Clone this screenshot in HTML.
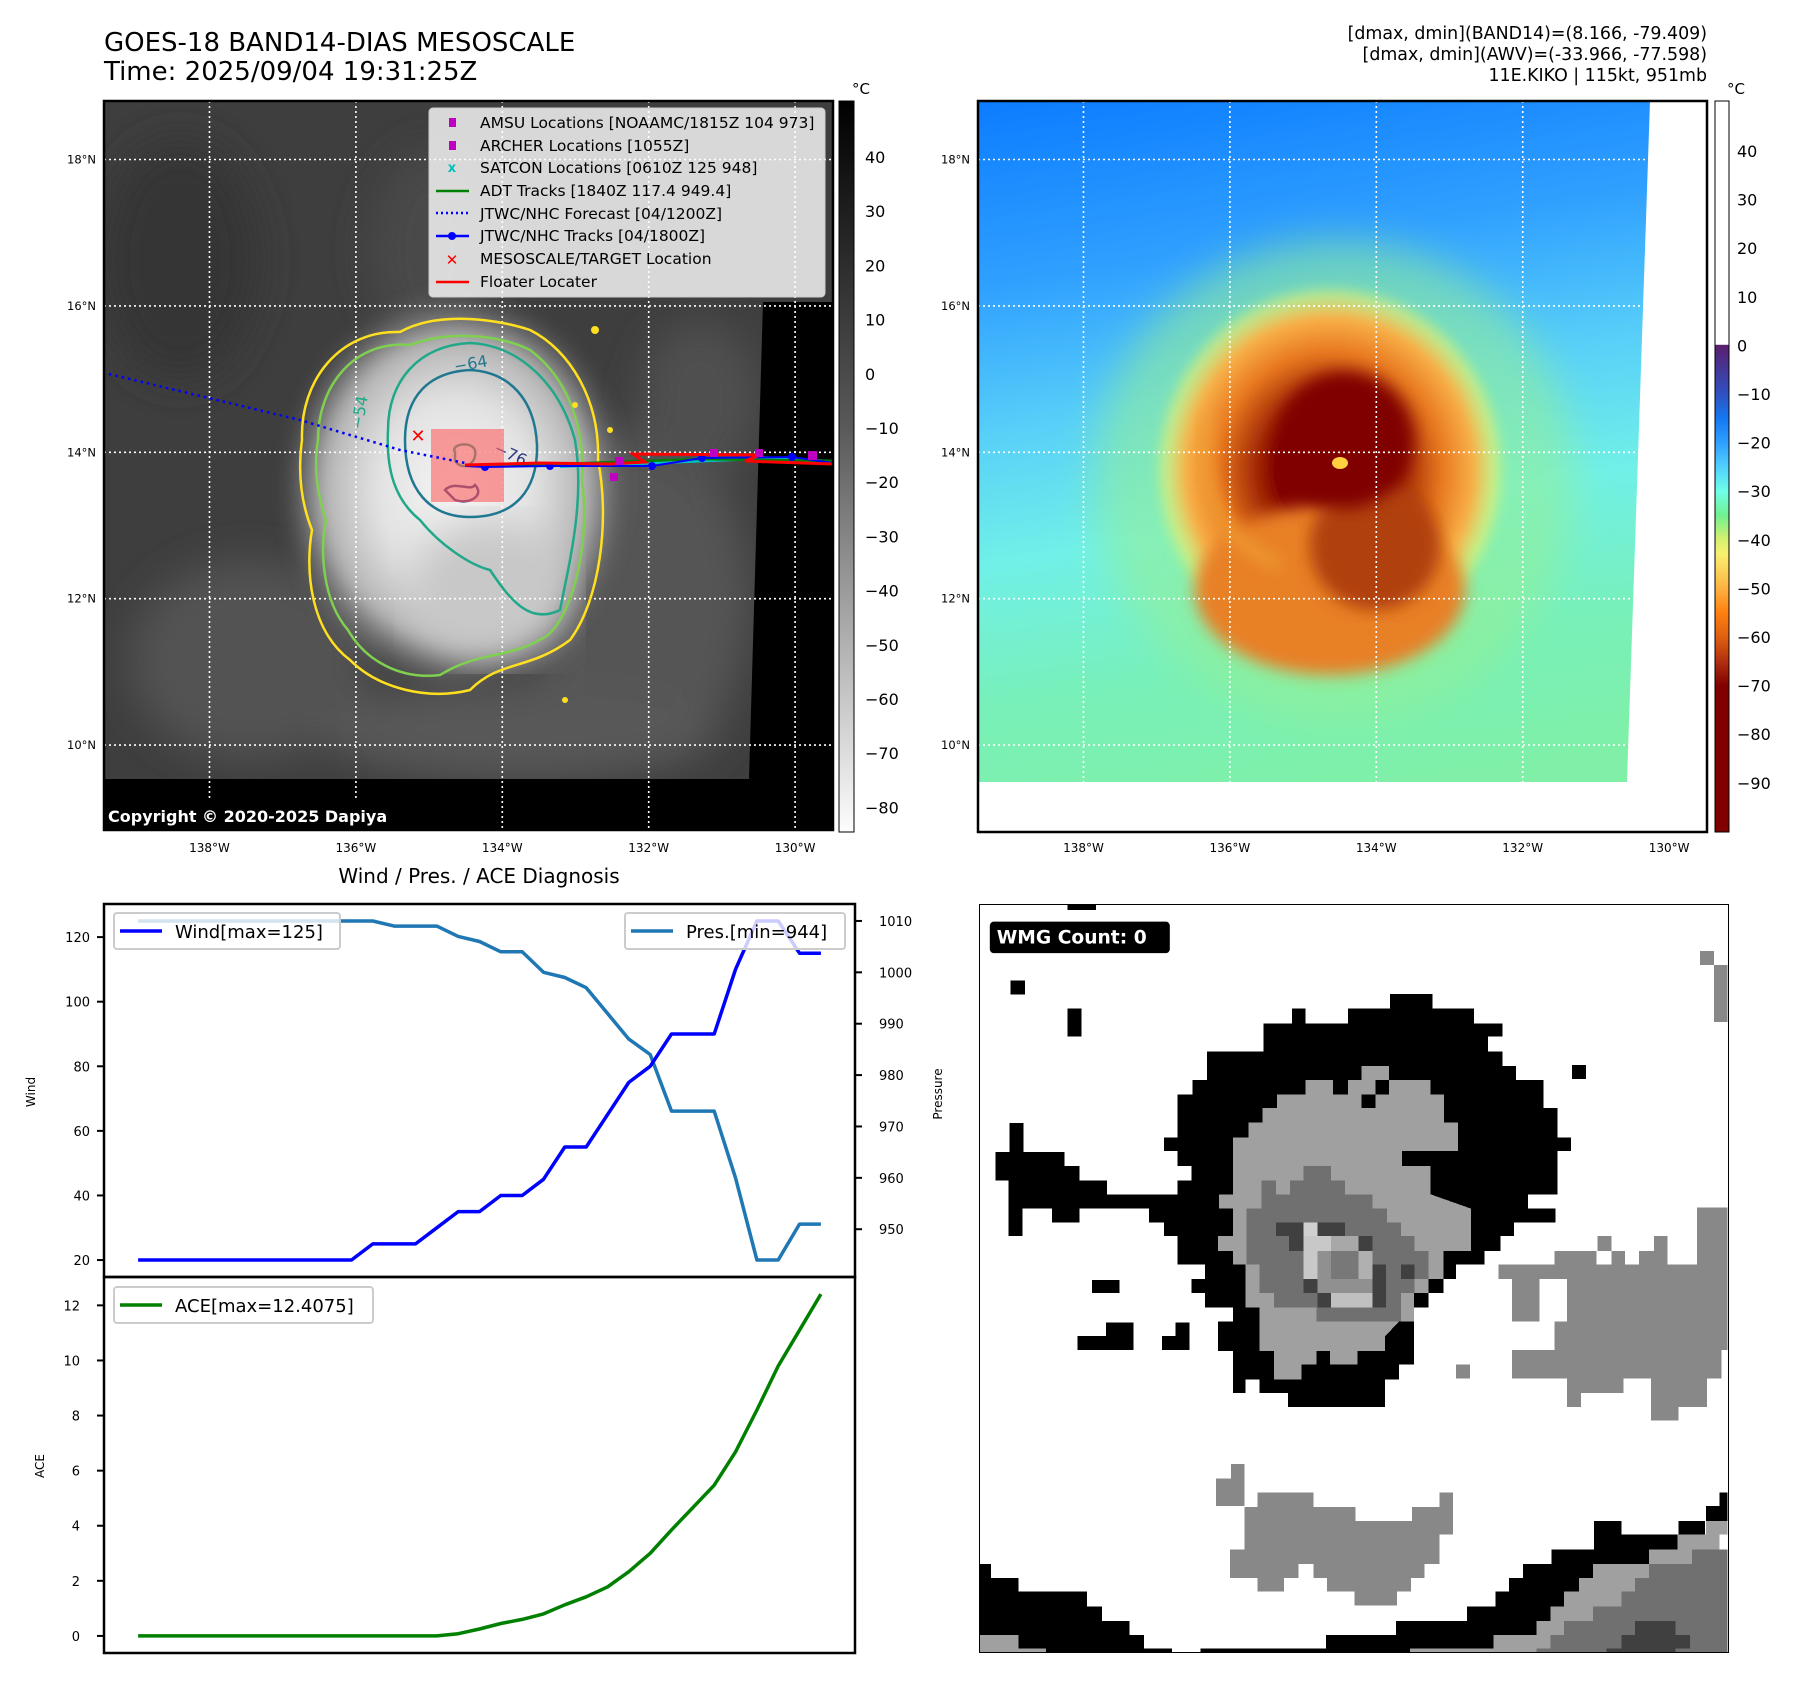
<!DOCTYPE html>
<html><head><meta charset="utf-8">
<style>
html,body{margin:0;padding:0;background:#fff;}
body{width:1797px;height:1690px;overflow:hidden;font-family:"DejaVu Sans","Liberation Sans",sans-serif;}
svg text{font-family:"DejaVu Sans","Liberation Sans",sans-serif;}
</style></head>
<body>
<svg id="fig" width="1797" height="1690" viewBox="0 0 1797 1690" xmlns="http://www.w3.org/2000/svg">
<defs>
  <linearGradient id="gCb" x1="0" y1="0" x2="0" y2="1">
    <stop offset="0" stop-color="#000"/><stop offset="0.45" stop-color="#5a5a5a"/><stop offset="1" stop-color="#fdfdfd"/>
  </linearGradient>
  <linearGradient id="cCb" x1="0" y1="0" x2="0" y2="1">
    <stop offset="0" stop-color="#fff"/><stop offset="0.333" stop-color="#fff"/>
    <stop offset="0.334" stop-color="#5a1e6e"/><stop offset="0.40" stop-color="#3050c0"/>
    <stop offset="0.434" stop-color="#1478f0"/><stop offset="0.468" stop-color="#30a0ff"/>
    <stop offset="0.5" stop-color="#50d0ff"/><stop offset="0.534" stop-color="#70ffe8"/>
    <stop offset="0.567" stop-color="#70f090"/><stop offset="0.6" stop-color="#d8f070"/>
    <stop offset="0.62" stop-color="#f8f070"/><stop offset="0.668" stop-color="#ffb040"/>
    <stop offset="0.70" stop-color="#ff8010"/><stop offset="0.733" stop-color="#e06010"/>
    <stop offset="0.767" stop-color="#b03010"/><stop offset="0.80" stop-color="#800000"/>
    <stop offset="1" stop-color="#800000"/>
  </linearGradient>
  <linearGradient id="rBg" x1="0" y1="0" x2="0.15" y2="1">
    <stop offset="0" stop-color="#0c7cff"/><stop offset="0.25" stop-color="#30a0ff"/>
    <stop offset="0.45" stop-color="#58d0f8"/><stop offset="0.62" stop-color="#70f0e8"/>
    <stop offset="0.82" stop-color="#78f0b8"/><stop offset="1" stop-color="#80f0a8"/>
  </linearGradient>
  <radialGradient id="rStorm" cx="0.5" cy="0.5" r="0.5">
    <stop offset="0" stop-color="#800000"/><stop offset="0.3" stop-color="#800000"/>
    <stop offset="0.45" stop-color="#b03808"/><stop offset="0.62" stop-color="#e87820"/>
    <stop offset="0.8" stop-color="#f8b048"/><stop offset="0.92" stop-color="#e8f070" stop-opacity="0.6"/>
    <stop offset="1" stop-color="#a0f090" stop-opacity="0"/>
  </radialGradient>
  <radialGradient id="lStorm" cx="0.5" cy="0.5" r="0.5">
    <stop offset="0" stop-color="#f4f4f4"/><stop offset="0.45" stop-color="#e2e2e2"/>
    <stop offset="0.75" stop-color="#b4b4b4"/><stop offset="1" stop-color="#6a6a6a" stop-opacity="0"/>
  </radialGradient>
  <filter id="blur8"><feGaussianBlur stdDeviation="8"/></filter>
  <filter id="blur4"><feGaussianBlur stdDeviation="4"/></filter>
  <filter id="blur20"><feGaussianBlur stdDeviation="20"/></filter>
  <clipPath id="clipL"><rect x="104" y="101" width="729" height="729"/></clipPath>
  <clipPath id="clipR"><rect x="978" y="101" width="729" height="731"/></clipPath>
</defs>

<text x="104" y="51" font-size="26">GOES-18 BAND14-DIAS MESOSCALE</text>
<text x="104" y="80" font-size="26">Time: 2025/09/04 19:31:25Z</text>
<g font-size="17.4" text-anchor="end">
  <text x="1707" y="39">[dmax, dmin](BAND14)=(8.166, -79.409)</text>
  <text x="1707" y="60">[dmax, dmin](AWV)=(-33.966, -77.598)</text>
  <text x="1707" y="81">11E.KIKO | 115kt, 951mb</text>
</g>

<g clip-path="url(#clipL)">
  <rect x="104" y="101" width="729" height="729" fill="#3e3e3e"/>
  <g filter="url(#blur20)">
    <ellipse cx="180" cy="260" rx="80" ry="120" fill="#343434"/>
    <ellipse cx="640" cy="600" rx="110" ry="170" fill="#555"/>
    <ellipse cx="250" cy="660" rx="120" ry="100" fill="#525252"/>
    <ellipse cx="520" cy="730" rx="200" ry="50" fill="#585858"/>
    <ellipse cx="430" cy="250" rx="60" ry="100" fill="#484848"/>
    <ellipse cx="700" cy="400" rx="60" ry="80" fill="#505050"/>
  </g>
  <ellipse cx="455" cy="490" rx="175" ry="200" fill="url(#lStorm)" filter="url(#blur8)"/>
  <ellipse cx="490" cy="590" rx="80" ry="70" fill="#c8c8c8" filter="url(#blur20)"/>
  <polygon points="763,302 833,302 833,830 104,830 104,779 749,779" fill="#000"/>
  <g id="gridL" stroke="#fff" stroke-width="1.6" stroke-dasharray="2,3" fill="none"></g>
  <path d="M302,440 C300,380 340,330 400,332 C440,310 500,320 530,330 C570,350 600,400 598,460 C610,520 600,600 570,640 C530,670 500,660 470,690 C430,700 380,690 350,660 C310,630 305,570 312,530 C300,500 298,470 302,440Z" fill="none" stroke="#ffe020" stroke-width="2.5"/>
  <path d="M318,440 C318,385 355,340 410,345 C450,330 500,335 530,350 C570,380 585,430 582,480 C590,540 575,610 548,635 C510,660 480,650 440,675 C400,680 365,660 348,630 C322,600 320,550 326,520 C316,490 314,465 318,440Z" fill="none" stroke="#80d050" stroke-width="2.5"/>
  <path d="M388,430 C388,380 420,345 470,343 C520,345 560,385 575,440 C585,500 570,560 560,610 C530,625 510,600 490,570 C470,565 440,545 420,520 C395,500 386,470 388,430Z" fill="none" stroke="#20a888" stroke-width="2.5"/>
  <path d="M405,440 C405,395 430,372 470,370 C510,372 535,400 537,445 C538,490 515,517 470,517 C430,517 405,490 405,440Z" fill="none" stroke="#207890" stroke-width="2.5"/>
  <path d="M455,452 C450,445 470,440 475,450 C478,465 460,472 455,460Z" fill="none" stroke="#2a9080" stroke-width="2.5"/>
  <path d="M445,490 C455,480 470,492 475,485 C485,495 470,505 455,500Z" fill="none" stroke="#303880" stroke-width="2.5"/>
  <g fill="#ffe020"><circle cx="575" cy="405" r="3"/><circle cx="610" cy="430" r="3"/><circle cx="595" cy="330" r="4"/><circle cx="565" cy="700" r="3"/></g>
  <text x="362" y="430" font-size="16" fill="#20a888" transform="rotate(-80 362 430)">−54</text>
  <text x="455" y="372" font-size="16" fill="#207890" transform="rotate(-10 455 372)">−64</text>
  <text x="493" y="452" font-size="16" fill="#303880" transform="rotate(25 493 452)">−76</text>
  <rect x="431" y="429" width="73" height="73" fill="#ff6060" fill-opacity="0.6"/>
  <polyline points="109,374 300,420 400,450 465,463" fill="none" stroke="#0000ff" stroke-width="2.5" stroke-dasharray="2.5,4"/>
  <polyline points="560,466 640,463 760,458 833,462" fill="none" stroke="#00c0c0" stroke-width="4"/>
  <polyline points="465,465 560,464 700,459 833,461" fill="none" stroke="#008000" stroke-width="2.5"/>
  <polyline points="465,466 485,467 550,466 652,466 702,458 792,457 833,463" fill="none" stroke="#0000ff" stroke-width="2"/>
  <g fill="#0000ff"><circle cx="485" cy="467" r="4"/><circle cx="550" cy="466" r="4"/><circle cx="652" cy="466" r="4"/><circle cx="702" cy="458" r="4"/><circle cx="792" cy="457" r="4"/></g>
  <polyline points="465,465 540,463 610,464 645,462 633,454 760,455 745,461 833,464" fill="none" stroke="#ff0000" stroke-width="3"/>
  <g fill="#c000c0"><rect x="610" y="473" width="8" height="8"/><rect x="615" y="457" width="8" height="8"/><rect x="710" y="449" width="8" height="8"/><rect x="808" y="451" width="9" height="9"/><rect x="755" y="449" width="8" height="8"/></g>
  <text x="418" y="442" font-size="18" font-weight="bold" fill="#ff0000" text-anchor="middle">✕</text>
  <rect x="104" y="800" width="314" height="30" fill="#000"/>
  <text x="108" y="822" font-size="16" font-weight="bold" fill="#fff">Copyright © 2020-2025 Dapiya</text>
</g>
<rect x="104" y="101" width="729" height="729" fill="none" stroke="#000" stroke-width="2.5"/>

<g font-size="15.5">
  <rect x="429" y="108" width="396" height="189" rx="4" fill="#fff" fill-opacity="0.8" stroke="#ccc"/>
  <rect x="449" y="118" width="7" height="9" fill="#c000c0"/><text x="480" y="128">AMSU Locations [NOAAMC/1815Z 104 973]</text>
  <rect x="449" y="141" width="7" height="9" fill="#c000c0"/><text x="480" y="151">ARCHER Locations [1055Z]</text>
  <text x="452" y="172" font-size="13" fill="#00c0c0" text-anchor="middle" font-weight="bold">x</text><text x="480" y="173">SATCON Locations [0610Z 125 948]</text>
  <line x1="436" y1="191" x2="469" y2="191" stroke="#008000" stroke-width="2.5"/><text x="480" y="196">ADT Tracks [1840Z 117.4 949.4]</text>
  <line x1="436" y1="213" x2="469" y2="213" stroke="#0000ff" stroke-width="2.5" stroke-dasharray="2,3"/><text x="480" y="219">JTWC/NHC Forecast [04/1200Z]</text>
  <line x1="436" y1="236" x2="469" y2="236" stroke="#0000ff" stroke-width="2.5"/><circle cx="452" cy="236" r="4" fill="#0000ff"/><text x="480" y="241">JTWC/NHC Tracks [04/1800Z]</text>
  <text x="452" y="265" font-size="15" fill="#ff0000" text-anchor="middle" font-weight="bold">✕</text><text x="480" y="264">MESOSCALE/TARGET Location</text>
  <line x1="436" y1="282" x2="469" y2="282" stroke="#ff0000" stroke-width="2.5"/><text x="480" y="287">Floater Locater</text>
</g>

<g>
  <rect x="839" y="101" width="15" height="731" fill="url(#gCb)" stroke="#000" stroke-width="1"/>
  <text x="852" y="94" font-size="15">°C</text>
  <g id="cbLTicks" font-size="16"></g>
</g>

<g clip-path="url(#clipR)">
  <rect x="978" y="101" width="731" height="731" fill="url(#rBg)"/>
  <ellipse cx="1335" cy="480" rx="240" ry="240" fill="#98f090" opacity="0.55" filter="url(#blur20)"/>
  <ellipse cx="1330" cy="470" rx="180" ry="190" fill="url(#rStorm)" filter="url(#blur4)"/>
  <ellipse cx="1330" cy="590" rx="135" ry="85" fill="#e88028" filter="url(#blur8)"/>
  <ellipse cx="1375" cy="545" rx="65" ry="65" fill="#b04010" filter="url(#blur8)"/>
  <ellipse cx="1345" cy="440" rx="68" ry="68" fill="#800000" filter="url(#blur8)"/>
  <path d="M1205,420 C1195,500 1230,545 1280,565" fill="none" stroke="#f0a030" stroke-width="10" filter="url(#blur8)"/>
  <ellipse cx="1340" cy="463" rx="8" ry="6" fill="#ffd040"/>
  <polygon points="1650,101 1709,101 1709,832 978,832 978,782 1627,782" fill="#fff"/>
  <g id="gridR" stroke="#fff" stroke-width="1.6" stroke-dasharray="2,3" fill="none"></g>
</g>
<rect x="978" y="101" width="729" height="731" fill="none" stroke="#000" stroke-width="2.5"/>
<g>
  <rect x="1715" y="101" width="14" height="731" fill="url(#cCb)" stroke="#000" stroke-width="1"/>
  <text x="1727" y="94" font-size="15">°C</text>
  <g id="cbRTicks" font-size="16"></g>
</g>
<g id="mapLabels" font-size="11.5"></g>

<text x="479" y="883" font-size="20" text-anchor="middle">Wind / Pres. / ACE Diagnosis</text>
<g id="chart"></g>

<svg x="979" y="904" width="750" height="749" viewBox="0 0 1525 1525" preserveAspectRatio="none" shape-rendering="crispEdges">
  <rect x="0" y="0" width="1525" height="1525" fill="#fff"/>
  <g id="wmgBlack" fill="#000"></g>
  <polygon fill="#a0a0a0" points="778,330 834,330 834,358 918,358 918,388 946,388 946,445 974,445 974,503 860,503 860,533 918,533 918,591 1000,620 1000,706 944,706 944,764 914,764 914,792 884,792 884,850 854,850 826,880 826,910 770,910 770,938 656,938 656,968 600,968 600,910 570,910 570,822 542,822 542,734 516,734 516,706 486,706 486,676 516,676 516,620 488,620 488,591 516,591 516,475 548,475 548,445 576,445 576,415 606,415 606,388 664,388 664,358 720,358 720,388 750,388 750,358 778,358"/>
  <g fill="#000"><rect x="778" y="388" width="28" height="27"/><rect x="806" y="358" width="28" height="30"/><rect x="686" y="910" width="28" height="28"/></g>
  <polygon fill="#707070" points="660,533 716,533 716,563 744,563 744,591 800,591 800,620 830,620 830,648 858,648 858,676 886,676 886,706 914,706 914,764 886,764 886,792 858,792 858,850 686,850 686,822 600,822 600,792 570,792 570,734 544,734 544,620 574,620 574,563 604,563 604,591 632,591 632,563 660,563"/>
  <g id="wmgEye"></g>
  <g id="wmgGrey" fill="#888"></g>
  <g id="wmgBottom"></g>
  <rect x="0" y="0" width="1525" height="1525" fill="none" stroke="#000" stroke-width="5"/>
  <rect x="22" y="36" width="366" height="64" rx="8" fill="#000" shape-rendering="auto"/>
  <text x="36" y="80" font-size="38" font-weight="bold" fill="#fff">WMG Count: 0</text>
</svg>

<script>
const timeIndex = [0,1,2,3,4,5,6,7,8,9,10,11,12,13,14,15,16,17,18,19,20,21,22,23,24,25,26,27,28,29,30,31,32];
const windVals = [20,20,20,20,20,20,20,20,20,20,20,25,25,25,30,35,35,40,40,45,55,55,65,75,80,90,90,90,110,125,125,115,115];
const presVals = [1010,1010,1010,1010,1010,1010,1010,1010,1010,1010,1010,1010,1009,1009,1009,1007,1006,1004,1004,1000,999,997,992,987,984,973,973,973,960,944,944,951,951];
const aceVals = [0,0,0,0,0,0,0,0,0,0,0,0,0,0,0,0.08,0.25,0.45,0.6,0.8,1.13,1.42,1.78,2.33,3.0,3.85,4.66,5.47,6.68,8.2,9.8,11.1,12.41];
const windTicks = [20,40,60,80,100,120];
const presTicks = [950,960,970,980,990,1000,1010];
const aceTicks = [0,2,4,6,8,10,12];
const lonTicks = ["138°W","136°W","134°W","132°W","130°W"];
const latTicks = ["18°N","16°N","14°N","12°N","10°N"];
const cbLTicks = [40,30,20,10,0,-10,-20,-30,-40,-50,-60,-70,-80];
const cbRTicks = [40,30,20,10,0,-10,-20,-30,-40,-50,-60,-70,-80,-90];

const NS = "http://www.w3.org/2000/svg";
function mk(tag, attrs, parent){ const e=document.createElementNS(NS,tag); for(const k in attrs) e.setAttribute(k,attrs[k]); parent.appendChild(e); return e; }

const AX = {l:104, r:855, t1:904, b1:1277, t2:1277, b2:1653};
const xMin=-1.6, xMax=33.6;
function xs(i){ return AX.l + (i - xMin)/(xMax-xMin)*(AX.r-AX.l); }
const wMin=14.75, wMax=130.25;
function yw(v){ return AX.b1 - (v-wMin)/(wMax-wMin)*(AX.b1-AX.t1); }
const pMin=940.7, pMax=1013.3;
function yp(v){ return AX.b1 - (v-pMin)/(pMax-pMin)*(AX.b1-AX.t1); }
const aMin=-0.62, aMax=13.03;
function ya(v){ return AX.b2 - (v-aMin)/(aMax-aMin)*(AX.b2-AX.t2); }

const chart = document.getElementById('chart');
let f1 = mk('rect',{x:AX.l,y:AX.t1,width:AX.r-AX.l,height:AX.b1-AX.t1,fill:'none',stroke:'#000','stroke-width':2.5},chart);


let f2 = mk('rect',{x:AX.l,y:AX.t2,width:AX.r-AX.l,height:AX.b2-AX.t2,fill:'none',stroke:'#000','stroke-width':2.5},chart);



windTicks.forEach(v=>{
  const y=yw(v);
  mk('line',{x1:AX.l-7,x2:AX.l,y1:y,y2:y,stroke:'#000','stroke-width':2},chart);
  const t=mk('text',{x:AX.l-14,y:y+5,'font-size':13,'text-anchor':'end'},chart); t.textContent=v;
  
  
});
presTicks.forEach(v=>{
  const y=yp(v);
  mk('line',{x1:AX.r,x2:AX.r+7,y1:y,y2:y,stroke:'#000','stroke-width':2},chart);
  const t=mk('text',{x:AX.r+24,y:y+5,'font-size':13},chart); t.textContent=v;
  
  
});
aceTicks.forEach(v=>{
  const y=ya(v);
  mk('line',{x1:AX.l-7,x2:AX.l,y1:y,y2:y,stroke:'#000','stroke-width':2},chart);
  const t=mk('text',{x:AX.l-24,y:y+5,'font-size':13,'text-anchor':'end'},chart); t.textContent=v;
  
  
});
let yl=mk('text',{x:35,y:1092,'font-size':12,'text-anchor':'middle',transform:'rotate(-90 35 1092)'},chart); yl.textContent='Wind';


let pl=mk('text',{x:942,y:1094,'font-size':12,'text-anchor':'middle',transform:'rotate(-90 942 1094)'},chart); pl.textContent='Pressure';


let al=mk('text',{x:44,y:1466,'font-size':12,'text-anchor':'middle',transform:'rotate(-90 44 1466)'},chart); al.textContent='ACE';



function line(vals, yf, color, w, name){
  const pts = vals.map((v,i)=>xs(timeIndex[i]).toFixed(1)+','+yf(v).toFixed(1)).join(' ');
  const p=mk('polyline',{points:pts,fill:'none',stroke:color,'stroke-width':w,'stroke-linejoin':'round'},chart);
  
  
}
line(presVals, yp, '#1f77b4', 3.5, 'pressure-line');
line(windVals, yw, '#0000ff', 3.5, 'wind-line');
line(aceVals, ya, '#008000', 3.5, 'ace-line');

function legend(x,y,w,color,label,name){
  const g=mk('g',{},chart);
  
  
  mk('rect',{x:x,y:y,width:w,height:36,rx:3,fill:'#fff','fill-opacity':0.8,stroke:'#ccc','stroke-width':2},g);
  mk('line',{x1:x+6,x2:x+48,y1:y+18,y2:y+18,stroke:color,'stroke-width':3.5},g);
  const t=mk('text',{x:x+61,y:y+25,'font-size':18},g); t.textContent=label;
}
legend(114,913,226,'#0000ff','Wind[max=125]','wind-legend');
legend(625,913,220,'#1f77b4','Pres.[min=944]','pressure-legend');
legend(114,1287,259,'#008000','ACE[max=12.4075]','ace-legend');

const degPx = 73.2;
function gridFor(gid, left){
  const g=document.getElementById(gid);
  for(let k=0;k<5;k++){
    const x=left+105.5+k*2*degPx;
    mk('line',{x1:x,x2:x,y1:101,y2:832},g);
    const y=159.5+k*2*degPx;
    mk('line',{x1:left,x2:left+729,y1:y,y2:y},g);
  }
}
gridFor('gridL',104); gridFor('gridR',978);
const ml=document.getElementById('mapLabels');
[104,978].forEach(left=>{
  lonTicks.forEach((s,k)=>{
    const t=mk('text',{x:left+105.5+k*2*degPx,y:852,'font-size':12,'text-anchor':'middle'},ml); t.textContent=s;
    
    
  });
  latTicks.forEach((s,k)=>{
    const t=mk('text',{x:left-8,y:159.5+k*2*degPx+4,'font-size':11.5,'text-anchor':'end'},ml); t.textContent=s;
    
    
  });
});
const cbl=document.getElementById('cbLTicks');
cbLTicks.forEach(v=>{
  const y=157+(40-v)*5.42;
  const t=mk('text',{x:865,y:y+6},cbl); t.textContent=(v<0?'−'+(-v):v);
  
  
});
const cbr=document.getElementById('cbRTicks');
cbRTicks.forEach(v=>{
  const y=151+(40-v)*4.86;
  const t=mk('text',{x:1737,y:y+6},cbr); t.textContent=(v<0?'−'+(-v):v);
  
  
});

function rects(gid, list, fill){
  const g=document.getElementById(gid);
  list.forEach(r=>{ const a={x:r[0],y:r[2],width:r[1]-r[0],height:r[3]-r[2]}; if(fill) a.fill=fill; mk('rect',a,g); });
}
rects('wmgBlack',[[836,922,183,213],[636,664,213,243],[750,1007,213,243],[578,1064,243,270],[578,1035,270,300],[464,1064,300,330],[464,1092,330,358],[434,1148,358,388],[404,1148,388,415],[404,1176,415,445],[404,1176,445,475],[376,1204,475,503],[404,1176,503,533],[432,1176,533,563],[404,1176,563,591],[60,1116,591,620],[60,88,620,676],[148,204,620,648],[346,1172,620,648],[376,1088,648,676],[404,1060,676,706],[404,1028,706,734],[460,970,734,764],[432,944,764,792],[460,914,792,822],[516,884,822,850],[486,884,850,880],[486,884,880,910],[516,884,910,938],[516,854,938,968],[516,542,968,996],[570,826,968,996],[628,826,996,1024],[62,90,446,505],[34,174,505,533],[34,204,533,563],[60,260,563,591],[64,94,156,184],[180,208,213,270],[1206,1234,328,356],[230,286,766,792],[258,314,852,880],[200,314,880,908],[400,428,852,880],[372,428,880,908],[180,238,0,12]]);
const eye=document.getElementById('wmgEye');
[[604,660,648,676,'#404040'],[660,688,648,676,'#d0d0d0'],[688,744,648,676,'#404040'],[630,660,676,706,'#404040'],[660,716,676,706,'#c8c8c8'],[716,772,676,706,'#a8a8a8'],[772,800,676,706,'#404040'],[660,688,706,764,'#c8c8c8'],[688,800,706,792,'#909090'],[716,772,706,764,'#787878'],[800,828,734,822,'#404040'],[858,886,734,764,'#404040'],[660,688,764,792,'#404040'],[688,716,792,822,'#404040'],[716,800,792,822,'#c0c0c0'],[772,800,706,764,'#b0b0b0']].forEach(r=>mk('rect',{x:r[0],y:r[2],width:r[1]-r[0],height:r[3]-r[2],fill:r[4]},eye));
rects('wmgGrey',[[1460,1522,618,734],[1342,1400,706,734],[1258,1286,676,706],[1372,1400,676,706],[1286,1314,706,734],[1170,1256,706,734],[1056,1522,734,764],[1084,1140,764,850],[1196,1522,764,850],[1170,1522,850,908],[1084,1510,908,966],[1196,1310,966,996],[1366,1480,966,1024],[1196,1224,996,1024],[1366,1422,1024,1052],[1466,1494,96,124],[1494,1522,124,240],[970,998,938,966],[512,540,1140,1170],[482,540,1170,1226],[566,680,1198,1228],[936,964,1198,1228],[540,766,1228,1256],[880,964,1228,1256],[540,964,1256,1284],[540,936,1284,1314],[510,936,1314,1344],[510,650,1344,1372],[680,906,1344,1372],[566,620,1372,1400],[708,878,1372,1400],[764,850,1400,1428]]);
const wb=document.getElementById('wmgBottom');
[[1478,1522,1256,1284,'#a0a0a0'],[1420,1506,1284,1314,'#a0a0a0'],[1362,1450,1314,1344,'#a0a0a0'],[1248,1362,1344,1372,'#a0a0a0'],[1220,1334,1372,1400,'#a0a0a0'],[1190,1306,1400,1430,'#a0a0a0'],[1162,1248,1430,1460,'#a0a0a0'],[1134,1190,1460,1488,'#a0a0a0'],[1046,1162,1488,1516,'#a0a0a0'],[876,1134,1516,1525,'#a0a0a0'],[0,80,1488,1516,'#a0a0a0'],[0,136,1516,1525,'#a0a0a0'],
 [1450,1522,1314,1344,'#707070'],[1362,1522,1344,1372,'#707070'],[1334,1522,1372,1400,'#707070'],[1306,1522,1400,1430,'#707070'],[1248,1522,1430,1460,'#707070'],[1190,1522,1460,1488,'#707070'],[1162,1522,1488,1516,'#707070'],[1134,1522,1516,1525,'#707070'],
 [1334,1416,1460,1488,'#404040'],[1306,1446,1488,1516,'#404040'],[1276,1416,1516,1525,'#404040'],
 [0,24,1344,1372,'#000'],[0,80,1372,1400,'#000'],[0,220,1400,1430,'#000'],[0,250,1430,1460,'#000'],[0,306,1460,1488,'#000'],[80,336,1488,1516,'#000'],[136,392,1516,1525,'#000'],[450,876,1516,1525,'#000'],[706,1046,1488,1516,'#000'],[848,1134,1460,1488,'#000'],[992,1162,1430,1460,'#000'],[1050,1190,1400,1430,'#000'],[1078,1220,1372,1400,'#000'],[1106,1248,1344,1372,'#000'],[1164,1362,1314,1344,'#000'],[1250,1420,1284,1314,'#000'],[1250,1306,1256,1284,'#000'],[1422,1476,1256,1284,'#000'],[1478,1522,1226,1256,'#000'],[1506,1522,1198,1226,'#000']
].forEach(r=>mk('rect',{x:r[0],y:r[2],width:r[1]-r[0],height:r[3]-r[2],fill:r[4]},wb));
</script>
</body></html>
